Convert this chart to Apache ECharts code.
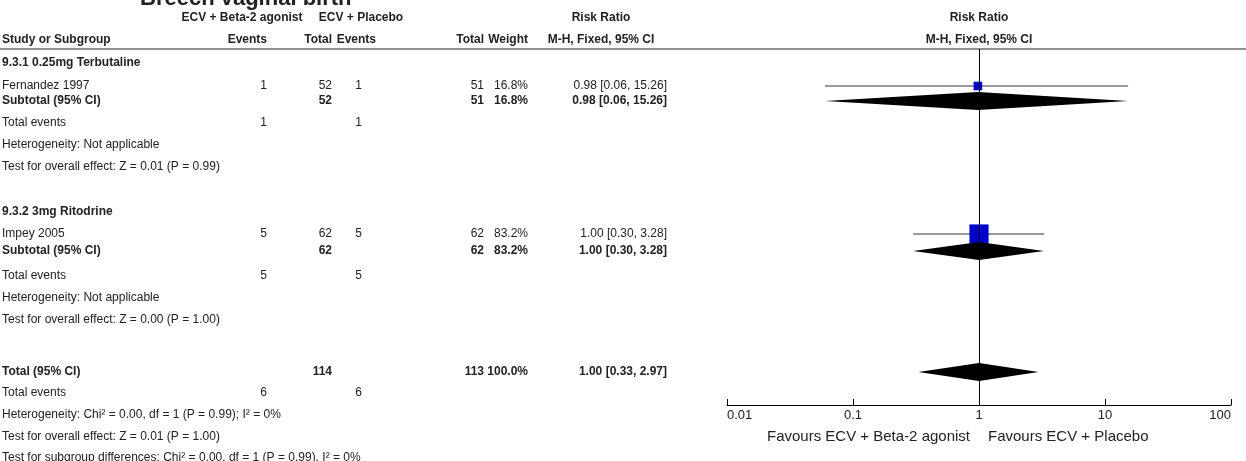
<!DOCTYPE html>
<html><head><meta charset="utf-8">
<script src="https://cdn.jsdelivr.net/npm/echarts@6/dist/echarts.min.js"></script>
<style>html,body{margin:0;padding:0;background:#fff}#c{width:1246px;height:461px}</style>
</head><body><div id="c"></div>
<script>
// ---------------- data ----------------
const chartTitle = 'Breech vaginal birth';
const groupNames = ['ECV + Beta-2 agonist', 'ECV + Placebo'];
const subgroupNames = ['9.3.1 0.25mg Terbutaline', '9.3.2 3mg Ritodrine'];
const studyNames = ['Fernandez 1997', 'Impey 2005'];
const studyEvents1 = [1, 5];
const studyTotal1 = [52, 62];
const studyEvents2 = [1, 5];
const studyTotal2 = [51, 62];
const studyWeight = [16.8, 83.2];
const studyRR = [0.98, 1.00];
const studyLow = [0.06, 0.30];
const studyHigh = [15.26, 3.28];
const subtotalRR = [0.98, 1.00];
const subtotalLow = [0.06, 0.30];
const subtotalHigh = [15.26, 3.28];
const subtotalHet = ['Heterogeneity: Not applicable', 'Heterogeneity: Not applicable'];
const subtotalTest = ['Test for overall effect: Z = 0.01 (P = 0.99)', 'Test for overall effect: Z = 0.00 (P = 1.00)'];
const overallTotals = [114, 113];
const overallEvents = [6, 6];
const overallRR = [1.00];
const overallLow = [0.33];
const overallHigh = [2.97];
const overallWeight = '100.0%';
const overallHet = 'Heterogeneity: Chi\u00b2 = 0.00, df = 1 (P = 0.99); I\u00b2 = 0%';
const overallTest = 'Test for overall effect: Z = 0.01 (P = 1.00)';
const subgroupDiff = 'Test for subgroup differences: Chi\u00b2 = 0.00, df = 1 (P = 0.99), I\u00b2 = 0%';
const axisTicks = [0.01, 0.1, 1, 10, 100];
const favourLabels = ['Favours ECV + Beta-2 agonist', 'Favours ECV + Placebo'];

// ---------------- layout ----------------
const FONT = '"Liberation Sans", Arial, sans-serif';
const TXT = '#222';
const rowY = {
  hdr1: 18, hdr2: 40, rule: 49,
  sections: [
    {sg: 63, st: 86, sub: 101, te: 123, het: 145, test: 167},
    {sg: 212, st: 234, sub: 251, te: 276, het: 298, test: 320}
  ],
  tot: 372, te: 393, het: 415, test: 437, diff: 458
};
const col = {study: 2, ev1: 267, tot1: 332, ev2: 362, ev2Head: 376, tot2: 484, wt: 528, rr: 667, rrHead: 601, g1: 242, g2: 361};
const plot = {left: 727, right: 15, top: 49, axisY: 405};

// ---------------- build ----------------
const chart = echarts.init(document.getElementById('c'), null, {renderer: 'canvas'});
const texts = [];
function t(str, x, y, align, bold, size) {
  texts.push({type: 'text', x: x, y: y, silent: true, style: {
    text: String(str), fill: TXT, align: align || 'left', verticalAlign: 'middle',
    font: (bold ? 'bold ' : '') + (size || 12) + 'px ' + FONT}});
}
t(chartTitle, 140, -1, 'left', true, 22);
t(groupNames[0], col.g1, rowY.hdr1, 'center', true);
t(groupNames[1], col.g2, rowY.hdr1, 'center', true);
t('Risk Ratio', col.rrHead, rowY.hdr1, 'center', true);
t('Study or Subgroup', col.study, rowY.hdr2, 'left', true);
t('Events', col.ev1, rowY.hdr2, 'right', true);
t('Total', col.tot1, rowY.hdr2, 'right', true);
t('Events', col.ev2Head, rowY.hdr2, 'right', true);
t('Total', col.tot2, rowY.hdr2, 'right', true);
t('Weight', col.wt, rowY.hdr2, 'right', true);
t('M-H, Fixed, 95% CI', col.rrHead, rowY.hdr2, 'center', true);

const fmtCI = (r, l, h) => r.toFixed(2) + ' [' + l.toFixed(2) + ', ' + h.toFixed(2) + ']';
const studyData = [], diamondData = [];
subgroupNames.forEach((name, i) => {
  const s = rowY.sections[i];
  t(name, col.study, s.sg, 'left', true);
  t(studyNames[i], col.study, s.st);
  t(studyEvents1[i], col.ev1, s.st, 'right');
  t(studyTotal1[i], col.tot1, s.st, 'right');
  t(studyEvents2[i], col.ev2, s.st, 'right');
  t(studyTotal2[i], col.tot2, s.st, 'right');
  t(studyWeight[i].toFixed(1) + '%', col.wt, s.st, 'right');
  t(fmtCI(studyRR[i], studyLow[i], studyHigh[i]), col.rr, s.st, 'right');
  t('Subtotal (95% CI)', col.study, s.sub, 'left', true);
  t(studyTotal1[i], col.tot1, s.sub, 'right', true);
  t(studyTotal2[i], col.tot2, s.sub, 'right', true);
  t(studyWeight[i].toFixed(1) + '%', col.wt, s.sub, 'right', true);
  t(fmtCI(subtotalRR[i], subtotalLow[i], subtotalHigh[i]), col.rr, s.sub, 'right', true);
  t('Total events', col.study, s.te);
  t(studyEvents1[i], col.ev1, s.te, 'right');
  t(studyEvents2[i], col.ev2, s.te, 'right');
  t(subtotalHet[i], col.study, s.het);
  t(subtotalTest[i], col.study, s.test);
  studyData.push([studyRR[i], studyLow[i], studyHigh[i], studyWeight[i], s.st]);
  diamondData.push([subtotalRR[i], subtotalLow[i], subtotalHigh[i], s.sub]);
});
t('Total (95% CI)', col.study, rowY.tot, 'left', true);
t(overallTotals[0], col.tot1, rowY.tot, 'right', true);
t(overallTotals[1], col.tot2, rowY.tot, 'right', true);
t(overallWeight, col.wt, rowY.tot, 'right', true);
t(fmtCI(overallRR[0], overallLow[0], overallHigh[0]), col.rr, rowY.tot, 'right', true);
t('Total events', col.study, rowY.te);
t(overallEvents[0], col.ev1, rowY.te, 'right');
t(overallEvents[1], col.ev2, rowY.te, 'right');
t(overallHet, col.study, rowY.het);
t(overallTest, col.study, rowY.test);
t(subgroupDiff, col.study, rowY.diff);
diamondData.push([overallRR[0], overallLow[0], overallHigh[0], rowY.tot]);

const option = {
  animation: false,
  backgroundColor: '#fff',
  grid: {left: plot.left, right: plot.right, top: plot.top, bottom: 461 - plot.axisY, containLabel: false},
  xAxis: {
    type: 'log', logBase: 10, min: axisTicks[0], max: axisTicks[axisTicks.length - 1],
    axisLine: {show: true, lineStyle: {color: '#000', width: 1}},
    axisTick: {show: true, inside: true, length: 6, lineStyle: {color: '#000'}},
    minorTick: {show: false}, splitLine: {show: false},
    axisLabel: {show: true, color: TXT, fontFamily: FONT, fontSize: 13, margin: 4,
      alignMinLabel: 'left', alignMaxLabel: 'right',
      formatter: v => String(+Number(v).toPrecision(6))}
  },
  yAxis: {type: 'value', inverse: true, min: plot.top, max: plot.axisY, show: false},
  series: [
    {
      type: 'custom', name: 'studies', data: studyData, clip: false,
      renderItem: (params, api) => {
        const y = api.value(4);
        const pLo = api.coord([api.value(1), y]);
        const pHi = api.coord([api.value(2), y]);
        const pC = api.coord([api.value(0), y]);
        const side = 2.1 * Math.sqrt(api.value(3));
        return {type: 'group', children: [
          {type: 'line', shape: {x1: pLo[0], y1: pLo[1], x2: pHi[0], y2: pHi[1]}, style: {stroke: '#333', lineWidth: 1}},
          {type: 'rect', shape: {x: pC[0] - side / 2, y: pC[1] - side / 2, width: side, height: side}, style: {fill: '#0000CC'}}
        ]};
      }
    },
    {
      type: 'custom', name: 'diamonds', data: diamondData, clip: false,
      renderItem: (params, api) => {
        const y = api.value(3);
        const pLo = api.coord([api.value(1), y]);
        const pHi = api.coord([api.value(2), y]);
        const pC = api.coord([api.value(0), y]);
        const h = 9;
        return {type: 'polygon', shape: {points: [[pLo[0], pLo[1]], [pC[0], pC[1] - h], [pHi[0], pHi[1]], [pC[0], pC[1] + h]]},
          style: {fill: '#000'}};
      }
    },
    {
      type: 'line', data: [], silent: true,
      markLine: {symbol: 'none', silent: true, label: {show: false},
        lineStyle: {color: '#000', width: 1, type: 'solid'}, data: [{xAxis: 1}]}
    }
  ]
};
chart.setOption(option);
const cx = chart.convertToPixel({xAxisIndex: 0}, 1);
t('Risk Ratio', cx, rowY.hdr1, 'center', true);
t('M-H, Fixed, 95% CI', cx, rowY.hdr2, 'center', true);
t(favourLabels[0], cx - 9, 437, 'right', false, 15);
t(favourLabels[1], cx + 9, 437, 'left', false, 15);
texts.push({type: 'line', silent: true, shape: {x1: 0, y1: rowY.rule, x2: 1246, y2: rowY.rule}, style: {stroke: '#222', lineWidth: 1.2}});
chart.setOption({graphic: {elements: texts}});
</script></body></html>
